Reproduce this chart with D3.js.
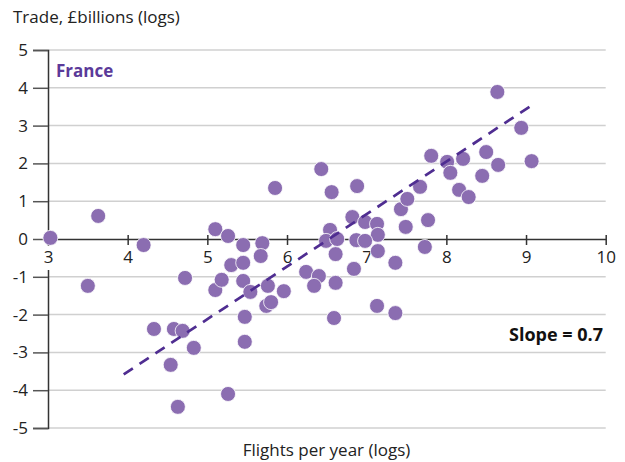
<!DOCTYPE html>
<html>
<head>
<meta charset="utf-8">
<script src="https://cdn.jsdelivr.net/npm/d3@7/dist/d3.min.js"></script>
<style>
  html, body { margin: 0; padding: 0; background: #fff; }
  svg { display: block; font-family: "Open Sans", "Noto Sans", sans-serif; }
</style>
</head>
<body>
<script>
// Flights per year (logs) vs trade in £billions (logs), one point per partner
const flights = [
  3.03, 3.63, 3.50, 4.20, 4.33, 4.58, 4.69, 4.72, 4.83, 4.54,
  4.63, 5.26, 5.10, 5.18, 5.10, 5.26, 5.30, 5.45, 5.45, 5.45,
  5.54, 5.47, 5.47, 5.69, 5.67, 5.76, 5.74, 5.80, 5.96, 5.85,
  6.24, 6.40, 6.34, 6.61, 6.84, 7.13, 7.36, 6.59, 6.43, 6.56,
  6.88, 6.82, 6.98, 7.13, 6.54, 7.14, 6.49, 6.63, 6.87, 6.98,
  6.61, 7.14, 7.36, 7.43, 7.51, 7.67, 7.49, 7.77, 7.73, 7.81,
  8.01, 8.05, 8.21, 8.50, 8.64, 8.94, 9.07, 8.65, 8.45, 8.16,
  8.28
];
const trade = [
  0.03, 0.61, -1.24, -0.16, -2.38, -2.38, -2.43, -1.03, -2.88, -3.33,
  -4.44, -4.10, -1.35, -1.08, 0.26, 0.08, -0.69, -0.16, -0.63, -1.11,
  -1.40, -2.06, -2.72, -0.11, -0.45, -1.24, -1.77, -1.67, -1.38, 1.35,
  -0.87, -0.98, -1.24, -1.16, -0.79, -1.77, -1.96, -2.09, 1.85, 1.24,
  1.40, 0.58, 0.45, 0.40, 0.24, 0.11, -0.05, 0.00, -0.03, -0.05,
  -0.40, -0.32, -0.63, 0.79, 1.06, 1.38, 0.32, 0.50, -0.21, 2.20,
  2.04, 1.75, 2.12, 2.30, 3.89, 2.94, 2.06, 1.96, 1.67, 1.30,
  1.11
];
// Fitted trend line endpoints
const trendX = [3.95, 9.11];
const trendY = [-3.58, 3.59];

const xTicks = [3, 4, 5, 6, 7, 8, 9, 10];
const yTicks = [-5, -4, -3, -2, -1, 0, 1, 2, 3, 4, 5];

const yTitle = "Trade, £billions (logs)";
const xTitle = "Flights per year (logs)";
const seriesLabel = "France";
const slopeLabel = "Slope = 0.7";

const W = 625, H = 462;
const x = d3.scaleLinear().domain([3, 10]).range([48, 605.7]);
const y = d3.scaleLinear().domain([-5, 5]).range([428, 50]);
const fmt = d => String(d); // plain hyphen for negatives

const svg = d3.select("body").append("svg")
  .attr("width", W).attr("height", H);

// horizontal gridlines
svg.append("g").selectAll("line")
  .data(yTicks.filter(d => d !== 0))
  .join("line")
  .attr("x1", x(3)).attr("x2", x(10))
  .attr("y1", d => y(d)).attr("y2", d => y(d))
  .attr("stroke", "#d0d0d0").attr("stroke-width", 1.5);

// y axis
const yAxis = svg.append("g")
  .attr("transform", `translate(${x(3)},0)`)
  .call(d3.axisLeft(y).tickValues(yTicks).tickSize(15).tickPadding(5).tickFormat(fmt));
yAxis.select(".domain").attr("stroke", "#333").attr("stroke-width", 1.5);
yAxis.selectAll(".tick line").attr("stroke", "#555").attr("stroke-width", 1.5);
yAxis.selectAll(".tick text")
  .attr("font-family", "'Open Sans', sans-serif")
  .attr("font-size", 17).attr("fill", "#222");

// x axis along y = 0
const xAxis = svg.append("g")
  .attr("transform", `translate(0,${y(0)})`)
  .call(d3.axisBottom(x).tickValues(xTicks).tickSize(0).tickPadding(12).tickFormat(fmt));
xAxis.select(".domain").attr("stroke", "#333").attr("stroke-width", 1.5);
xAxis.selectAll(".tick line").remove();
xAxis.selectAll(".tick").append("line")
  .attr("y1", -4).attr("y2", 6)
  .attr("stroke", "#333").attr("stroke-width", 1.5);
xAxis.selectAll(".tick text")
  .attr("font-family", "'Open Sans', sans-serif")
  .attr("font-size", 17).attr("fill", "#222");
// white boxes behind x tick labels
xAxis.selectAll(".tick").each(function () {
  const t = d3.select(this).select("text");
  const b = t.node().getBBox();
  d3.select(this).insert("rect", "text")
    .attr("x", b.x - 2).attr("y", 7)
    .attr("width", b.width + 4).attr("height", 270 - y(0) - 7)
    .attr("fill", "#fff");
});

// points
const pts = flights.map((f, i) => ({ f, t: trade[i] }));
svg.append("g").selectAll("circle")
  .data(pts)
  .join("circle")
  .attr("cx", d => x(d.f)).attr("cy", d => y(d.t))
  .attr("r", 7.5)
  .attr("fill", "#8b6db1")
  .attr("stroke", "#fff").attr("stroke-width", 0.8);

// trend line
svg.append("line")
  .attr("x1", x(trendX[0])).attr("y1", y(trendY[0]))
  .attr("x2", x(trendX[1])).attr("y2", y(trendY[1]))
  .attr("stroke", "#4f2d91").attr("stroke-width", 2.7)
  .attr("stroke-dasharray", "11,8");

// titles and labels
svg.append("text")
  .attr("x", 13).attr("y", 23)
  .attr("font-size", 17).attr("fill", "#222")
  .text(yTitle);

svg.append("text")
  .attr("x", 326.5).attr("y", 456)
  .attr("text-anchor", "middle")
  .attr("font-size", 17).attr("fill", "#222")
  .text(xTitle);

svg.append("text")
  .attr("x", 56).attr("y", 77)
  .attr("font-size", 17).attr("font-weight", "bold").attr("fill", "#5b3a99")
  .text(seriesLabel);

svg.append("text")
  .attr("x", 603).attr("y", 341)
  .attr("text-anchor", "end")
  .attr("font-size", 18).attr("font-weight", "bold").attr("fill", "#111")
  .text(slopeLabel);
</script>
</body>
</html>
